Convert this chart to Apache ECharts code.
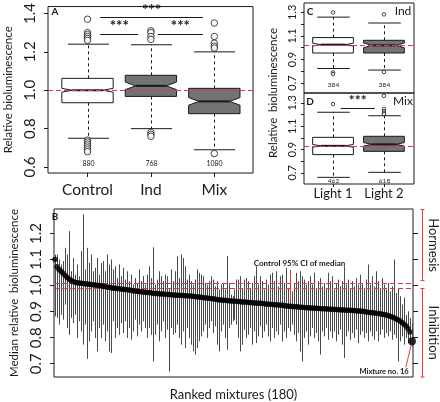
<!DOCTYPE html>
<html><head><meta charset="utf-8">
<script src="https://cdn.jsdelivr.net/npm/echarts@6/dist/echarts.min.js"></script>
<style>html,body{margin:0;padding:0;background:#fff}#c{width:440px;height:402px}</style>
</head><body><div id="c"></div>
<script>
// ---------- Panel A ----------
const groupsA = ['Control', 'Ind', 'Mix'];
const lowA = [0.75, 0.80, 0.69];
const q1A = [0.935, 0.968, 0.878];
const medA = [1.0, 1.023, 0.942];
const q3A = [1.062, 1.078, 1.010];
const highA = [1.24, 1.237, 1.20];
const notchA = [0.01, 0.02, 0.02];
const countA = [880, 768, 1080];
const outliersA = [
  [1.37, 1.30, 1.29, 1.28, 1.27, 1.26, 0.74, 0.73, 0.72, 0.71, 0.70, 0.69, 0.68],
  [1.31, 1.30, 1.28, 1.265, 0.78, 0.77, 0.76],
  [1.35, 1.28, 1.245, 1.23, 1.22, 0.67]
];
const refA = 1.0;
const sigFromA = [1.2, 1.2, 2.11];
const sigToA = [2.82, 1.8, 2.82];
const sigLevelA = [1.38, 1.293, 1.293];
const ticksA = [0.6, 0.8, 1.0, 1.2, 1.4];

// ---------- Panels C and D ----------
const groupsCD = ['Light 1', 'Light 2'];
const lowC = [0.823, 0.81], q1C = [0.955, 0.955], medC = [1.026, 1.02], q3C = [1.086, 1.063], highC = [1.26, 1.21];
const notchC = [0.012, 0.02], countC = [384, 384];
const outliersC = [[1.30, 0.79, 0.775], [1.283, 0.794]];
const refC = 1.02;
const lowD = [0.662, 0.705], q1D = [0.857, 0.885], medD = [0.932, 0.945], q3D = [1.005, 1.014], highD = [1.22, 1.19];
const notchD = [0.012, 0.015], countD = [462, 618];
const outliersD = [[1.29], [1.36, 1.25, 1.23, 1.215, 1.205]];
const refD = 0.928;
const sigFromD = [1.15], sigToD = [1.82], sigLevelD = [1.257];
const ticksCD = [0.7, 0.8, 0.9, 1.0, 1.1, 1.2, 1.3];
const labelsCD = [0.7, 0.9, 1.1, 1.3];

// ---------- Panel B (180 ranked mixtures) ----------
const medianB = [
1.100,1.072,1.062,1.055,1.047,1.040,1.032,1.025,1.020,1.016,
1.013,1.011,1.010,1.009,1.008,1.007,1.006,1.005,1.004,1.003,
1.002,1.001,1.000,0.999,0.997,0.996,0.995,0.994,0.992,0.991,
0.990,0.989,0.988,0.987,0.986,0.985,0.984,0.983,0.982,0.980,
0.979,0.978,0.977,0.976,0.975,0.974,0.973,0.973,0.972,0.971,
0.970,0.970,0.969,0.968,0.968,0.967,0.966,0.966,0.965,0.964,
0.964,0.963,0.963,0.962,0.962,0.961,0.961,0.960,0.960,0.959,
0.958,0.957,0.956,0.955,0.954,0.953,0.952,0.951,0.950,0.949,
0.948,0.947,0.946,0.945,0.944,0.944,0.943,0.942,0.941,0.941,
0.940,0.940,0.939,0.938,0.937,0.937,0.936,0.935,0.935,0.934,
0.933,0.933,0.932,0.932,0.931,0.930,0.929,0.928,0.928,0.927,
0.926,0.926,0.925,0.924,0.924,0.923,0.922,0.921,0.921,0.920,
0.919,0.919,0.918,0.917,0.917,0.916,0.915,0.915,0.914,0.914,
0.913,0.913,0.912,0.912,0.911,0.911,0.910,0.910,0.909,0.909,
0.908,0.908,0.907,0.907,0.906,0.906,0.905,0.905,0.905,0.904,
0.904,0.903,0.902,0.902,0.901,0.900,0.899,0.898,0.897,0.896,
0.895,0.894,0.893,0.892,0.890,0.889,0.887,0.885,0.882,0.879,
0.876,0.872,0.869,0.864,0.858,0.852,0.845,0.835,0.822,0.786];
const upperB = [
1.119,1.119,1.100,1.081,1.094,1.145,1.119,1.209,1.055,1.106,
1.042,1.081,1.036,1.132,1.273,1.062,1.145,1.087,1.119,1.055,
1.068,1.106,1.042,1.087,1.094,1.055,1.119,1.081,1.100,1.062,
1.074,1.029,1.081,1.036,1.068,1.023,1.055,1.017,1.042,1.004,
1.029,1.010,1.062,1.017,1.036,1.004,1.042,1.074,1.029,1.147,
1.004,1.023,1.055,1.036,1.017,1.042,1.036,0.991,1.062,1.017,
1.055,1.113,1.029,1.119,1.106,1.074,1.023,1.042,1.017,1.004,
1.023,1.062,1.049,1.042,1.036,1.010,1.004,1.017,1.036,1.023,
0.997,1.017,0.985,1.004,1.010,0.985,1.113,1.010,0.965,0.959,
0.985,1.023,1.023,1.036,0.991,1.023,1.029,1.017,0.991,1.010,
1.036,1.074,1.004,1.036,1.017,0.985,1.023,1.004,1.042,1.049,
1.017,1.055,0.997,1.036,1.042,1.010,1.068,0.991,1.004,0.978,
1.010,1.049,1.017,1.055,1.036,1.023,1.004,1.017,1.036,1.004,
1.049,0.991,1.017,1.029,0.997,1.010,0.991,1.049,1.017,1.036,
0.985,1.010,1.023,0.997,1.017,1.074,1.004,1.023,0.991,1.017,
0.997,1.029,1.004,1.042,1.010,0.991,1.023,1.081,1.004,1.036,
0.997,1.055,1.017,0.991,1.029,1.004,0.985,1.010,0.978,0.997,
1.100,0.972,0.991,0.959,0.927,0.953,0.888,0.901,0.876,0.856];
const lowerB = [
0.882,0.876,0.850,0.888,0.869,0.927,0.837,0.811,0.876,0.856,
0.888,0.799,0.863,0.824,0.773,0.850,0.719,0.786,0.824,0.863,
0.799,0.747,0.837,0.799,0.850,0.786,0.824,0.747,0.741,0.863,
0.799,0.837,0.811,0.856,0.818,0.863,0.799,0.837,0.792,0.824,
0.869,0.805,0.850,0.824,0.863,0.837,0.799,0.837,0.811,0.709,
0.811,0.850,0.786,0.824,0.863,0.799,0.831,0.670,0.837,0.811,
0.818,0.850,0.799,0.773,0.824,0.760,0.837,0.799,0.773,0.747,
0.735,0.760,0.786,0.805,0.824,0.850,0.799,0.837,0.863,0.818,
0.844,0.773,0.747,0.824,0.850,0.799,0.754,0.837,0.850,0.863,
0.869,0.850,0.799,0.747,0.773,0.831,0.799,0.811,0.837,0.773,
0.824,0.779,0.805,0.844,0.799,0.824,0.850,0.805,0.786,0.837,
0.799,0.824,0.811,0.850,0.786,0.824,0.799,0.837,0.824,0.850,
0.811,0.786,0.818,0.747,0.709,0.799,0.824,0.773,0.805,0.837,
0.799,0.818,0.786,0.735,0.824,0.805,0.837,0.792,0.824,0.799,
0.824,0.786,0.811,0.831,0.773,0.722,0.805,0.824,0.792,0.818,
0.799,0.831,0.779,0.811,0.824,0.799,0.818,0.786,0.824,0.805,
0.792,0.824,0.786,0.811,0.831,0.799,0.818,0.805,0.824,0.792,
0.811,0.799,0.709,0.786,0.805,0.773,0.799,0.779,0.773,0.767];
const ciB = [0.994, 1.011];
const ticksB = [0.7, 0.8, 0.9, 1.0, 1.1, 1.2];
const ciArrowB = [[119.2, 1.061], [119.2, 0.947]];
const ciLabelB = [123.6, 1.084];
const mixArrowB = [[176.9, 0.687], [179.6, 0.772]];
const mixLabelB = [166, 0.668];
const hormesisB = [1.292, 1.019];
const inhibitionB = [0.989, 0.649];

// ---------- styles ----------
const FONT = 'Lato';
const INK = '#1a1a1a';
const GRAY = '#737373';
const LINEGRAY = '#4a4a4a';
const RED = '#e0393e';

function boxRenderer(halfW, capFrac, indentFrac, countLevel, countSize, medW) {
  return function (params, api) {
    const i = params.dataIndex;
    const x = api.value(0);
    const Y = v => api.coord([x, v])[1];
    const xl = api.coord([x - halfW, 1])[0];
    const xr = api.coord([x + halfW, 1])[0];
    const cx = Math.round(api.coord([x, 1])[0]) + 0.5;
    const w = xr - xl;
    const cap = w * capFrac;
    const lo = Y(api.value(1)), q1 = Y(api.value(2)), md = Y(api.value(3)), q3 = Y(api.value(4)), hi = Y(api.value(5));
    const nt = Y(api.value(3) + api.value(6)), nb = Y(api.value(3) - api.value(6));
    const ind = w * indentFrac;
    const fill = i === 0 ? '#ffffff' : GRAY;
    const dash = { stroke: INK, lineWidth: 1, lineDash: [3, 3] };
    return {
      type: 'group',
      children: [
        { type: 'line', shape: { x1: cx, y1: q3, x2: cx, y2: hi }, style: dash },
        { type: 'line', shape: { x1: cx, y1: q1, x2: cx, y2: lo }, style: dash },
        { type: 'line', shape: { x1: cx - cap, y1: hi, x2: cx + cap, y2: hi }, style: { stroke: INK, lineWidth: 1 } },
        { type: 'line', shape: { x1: cx - cap, y1: lo, x2: cx + cap, y2: lo }, style: { stroke: INK, lineWidth: 1 } },
        { type: 'polygon', shape: { points: [[xl, q3], [xr, q3], [xr, nt], [xr - ind, md], [xr, nb], [xr, q1], [xl, q1], [xl, nb], [xl + ind, md], [xl, nt]] },
          style: { fill: fill, stroke: INK, lineWidth: 1 } },
        { type: 'line', shape: { x1: xl + ind, y1: md, x2: xr - ind, y2: md }, style: { stroke: INK, lineWidth: medW } },
        { type: 'text', style: { text: String(api.value(7)), x: cx, y: Y(countLevel), align: 'center', verticalAlign: 'middle', fontSize: countSize, fontFamily: FONT, fill: INK } }
      ]
    };
  };
}

function boxData(low, q1, med, q3, high, notch, count) {
  return low.map((v, i) => [i + 1, low[i], q1[i], med[i], q3[i], high[i], notch[i], count[i]]);
}
function outlierData(list) {
  const out = [];
  list.forEach((arr, i) => arr.forEach(v => out.push([i + 1, v])));
  return out;
}
function sigLines(from, to, lvl, fs) {
  return from.map((f, i) => [
    { coord: [f, lvl[i]], lineStyle: { color: INK, type: 'solid', width: 1 },
      label: { show: true, formatter: '***', position: 'middle', distance: 0, fontSize: fs, fontWeight: 'bold', color: INK, fontFamily: FONT } },
    { coord: [to[i], lvl[i]] }
  ]);
}
function refLine(v) {
  return { yAxis: v, lineStyle: { color: RED, type: [5, 3], width: 1.2 }, label: { show: false } };
}

const baseLabel = { fontFamily: FONT, color: INK };

const option = {
  animation: false,
  textStyle: { fontFamily: FONT },
  grid: [
    { left: 48, top: 3, width: 205, height: 170, show: true, borderColor: INK, borderWidth: 1, backgroundColor: 'transparent' },
    { left: 304, top: 3, width: 110, height: 90, show: true, borderColor: INK, borderWidth: 1, backgroundColor: 'transparent' },
    { left: 304, top: 93, width: 110, height: 91, show: true, borderColor: INK, borderWidth: 1, backgroundColor: 'transparent' },
    { left: 48, top: 209, width: 365, height: 169, show: true, borderColor: INK, borderWidth: 1, backgroundColor: 'transparent' }
  ],
  xAxis: [
    { type: 'value', gridIndex: 0, min: 0.377, max: 3.61, splitLine: { show: false }, axisLine: { show: false },
      axisTick: { show: true, customValues: [1, 2, 3], length: 4, lineStyle: { color: INK } },
      axisLabel: { show: true, customValues: [1, 2, 3], formatter: v => groupsA[Math.round(v) - 1] || '', fontSize: 15.5, margin: 9, ...baseLabel } },
    { type: 'value', gridIndex: 1, min: 0.43, max: 2.59, splitLine: { show: false }, axisLine: { show: false },
      axisTick: { show: false }, axisLabel: { show: false } },
    { type: 'value', gridIndex: 2, min: 0.43, max: 2.59, splitLine: { show: false }, axisLine: { show: false },
      axisTick: { show: true, customValues: [1, 2], length: 3, lineStyle: { color: INK } },
      axisLabel: { show: true, customValues: [1, 2], formatter: v => groupsCD[Math.round(v) - 1] || '', fontSize: 13, margin: 3, ...baseLabel } },
    { type: 'value', gridIndex: 3, min: 0.5, max: 180.5, splitLine: { show: false }, axisLine: { show: false },
      axisTick: { show: false }, axisLabel: { show: false },
      name: 'Ranked mixtures (180)', nameLocation: 'middle', nameGap: 11, nameTextStyle: { fontSize: 13, ...baseLabel } }
  ],
  yAxis: [
    { type: 'value', gridIndex: 0, min: 0.569, max: 1.436, splitLine: { show: false }, axisLine: { show: false },
      axisTick: { show: true, customValues: ticksA, length: 4, lineStyle: { color: INK } },
      axisLabel: { show: true, customValues: ticksA, rotate: 90, formatter: v => v.toFixed(1), fontSize: 15, margin: 10, ...baseLabel },
      name: 'Relative bioluminescence', nameLocation: 'middle', nameRotate: 90, nameGap: 34, nameTextStyle: { fontSize: 11.5, ...baseLabel } },
    { type: 'value', gridIndex: 1, min: 0.615, max: 1.38, splitLine: { show: false }, axisLine: { show: false },
      axisTick: { show: true, customValues: ticksCD, length: 3, lineStyle: { color: INK } },
      axisLabel: { show: true, customValues: labelsCD, rotate: 90, formatter: v => v.toFixed(1), fontSize: 11, margin: 6, ...baseLabel } },
    { type: 'value', gridIndex: 2, min: 0.605, max: 1.385, splitLine: { show: false }, axisLine: { show: false },
      axisTick: { show: true, customValues: ticksCD, length: 3, lineStyle: { color: INK } },
      axisLabel: { show: true, customValues: labelsCD, rotate: 90, formatter: v => v.toFixed(1), fontSize: 11, margin: 6, ...baseLabel } },
    { type: 'value', gridIndex: 3, min: 0.649, max: 1.294, splitLine: { show: false }, axisLine: { show: false },
      axisTick: { show: true, customValues: ticksB, length: 4, lineStyle: { color: INK } },
      axisLabel: { show: true, customValues: ticksB, rotate: 90, formatter: v => v.toFixed(1), fontSize: 15, margin: 10, ...baseLabel },
      name: 'Median relative  bioluminescence', nameLocation: 'middle', nameRotate: 90, nameGap: 34, nameTextStyle: { fontSize: 11.5, ...baseLabel } },
    { type: 'value', gridIndex: 3, position: 'right', min: 0.649, max: 1.294, splitLine: { show: false }, axisLine: { show: false },
      axisTick: { show: true, customValues: ticksB, length: 5, lineStyle: { color: INK } },
      axisLabel: { show: false } }
  ],
  series: [
    // Panel A
    { type: 'custom', xAxisIndex: 0, yAxisIndex: 0, renderItem: boxRenderer(0.405, 0.4, 0.2, 0.615, 7, 2),
      data: boxData(lowA, q1A, medA, q3A, highA, notchA, countA), encode: { x: 0, y: [1, 5] }, z: 3,
      markLine: { silent: true, symbol: 'none', animation: false, data: [refLine(refA)], z: 5 } },
    { type: 'scatter', xAxisIndex: 0, yAxisIndex: 0, data: outlierData(outliersA), symbol: 'circle', symbolSize: 6.5,
      itemStyle: { color: '#fff', borderColor: INK, borderWidth: 1 }, z: 4,
      markLine: { silent: true, symbol: 'none', animation: false, data: sigLines(sigFromA, sigToA, sigLevelA, 15) } },
    // Panel C
    { type: 'custom', xAxisIndex: 1, yAxisIndex: 1, renderItem: boxRenderer(0.4, 0.4, 0.2, 0.68, 6.5, 2),
      data: boxData(lowC, q1C, medC, q3C, highC, notchC, countC), encode: { x: 0, y: [1, 5] }, z: 3,
      markLine: { silent: true, symbol: 'none', animation: false, data: [refLine(refC)], z: 5 } },
    { type: 'scatter', xAxisIndex: 1, yAxisIndex: 1, data: outlierData(outliersC), symbol: 'circle', symbolSize: 3.5,
      itemStyle: { color: '#fff', borderColor: INK, borderWidth: 1 }, z: 4 },
    // Panel D
    { type: 'custom', xAxisIndex: 2, yAxisIndex: 2, renderItem: boxRenderer(0.4, 0.4, 0.2, 0.632, 6.5, 2),
      data: boxData(lowD, q1D, medD, q3D, highD, notchD, countD), encode: { x: 0, y: [1, 5] }, z: 3,
      markLine: { silent: true, symbol: 'none', animation: false, data: [refLine(refD)], z: 5 } },
    { type: 'scatter', xAxisIndex: 2, yAxisIndex: 2, data: outlierData(outliersD), symbol: 'circle', symbolSize: 3.5,
      itemStyle: { color: '#fff', borderColor: INK, borderWidth: 1 }, z: 4,
      markLine: { silent: true, symbol: 'none', animation: false, data: sigLines(sigFromD, sigToD, sigLevelD, 14) } },
    // Panel B ranges
    { type: 'custom', xAxisIndex: 3, yAxisIndex: 3, z: 2,
      data: medianB.map((m, i) => [i + 1, lowerB[i], upperB[i]]), encode: { x: 0, y: [1, 2] },
      renderItem: function (params, api) {
        const a = api.coord([api.value(0), api.value(1)]);
        const b = api.coord([api.value(0), api.value(2)]);
        const x = Math.round(a[0]) + 0.5;
        return { type: 'line', shape: { x1: x, y1: a[1], x2: x, y2: b[1] }, style: { stroke: LINEGRAY, lineWidth: 1 } };
      } },
    // Panel B medians
    { type: 'scatter', xAxisIndex: 3, yAxisIndex: 3, z: 4,
      data: medianB.map((m, i) => [i + 1, m]),
      symbolSize: (v, p) => (p.dataIndex === medianB.length - 1 ? 8 : 5.5),
      itemStyle: { color: '#000' },
      markLine: { silent: true, symbol: 'none', animation: false, z: 3,
        data: [refLine(ciB[0]), refLine(ciB[1]),
          [{ coord: ciArrowB[0], lineStyle: { color: RED, type: 'solid', width: 1 }, label: { show: false } }, { coord: ciArrowB[1] }],
          [{ coord: mixArrowB[0], lineStyle: { color: RED, type: 'solid', width: 1 }, label: { show: false } }, { coord: mixArrowB[1] }]
        ] } }
  ]
};

const chart = echarts.init(document.getElementById('c'));
chart.setOption(option);

const pB = v => chart.convertToPixel({ gridIndex: 3 }, v);
const ciL = pB(ciLabelB), mixL = pB(mixLabelB);
const hTop = pB([180, hormesisB[0]])[1], hBot = pB([180, hormesisB[1]])[1];
const iTop = pB([180, inhibitionB[0]])[1], iBot = pB([180, inhibitionB[1]])[1];
const bx = 422.5;
function bracket(y1, y2) {
  return [
    { type: 'line', shape: { x1: bx, y1: y1, x2: bx, y2: y2 }, style: { stroke: RED, lineWidth: 1 } },
    { type: 'line', shape: { x1: bx - 2, y1: y1, x2: bx + 2, y2: y1 }, style: { stroke: RED, lineWidth: 1 } },
    { type: 'line', shape: { x1: bx - 2, y1: y2, x2: bx + 2, y2: y2 }, style: { stroke: RED, lineWidth: 1 } }
  ];
}
const txt = (t, x, y, o) => ({ type: 'text', x: x, y: y, rotation: (o && o.rot) || 0,
  style: { text: t, align: 'center', verticalAlign: 'middle', fontSize: (o && o.fs) || 10, fontWeight: (o && o.fw) || 'normal', fontFamily: FONT, fill: INK } });

chart.setOption({
  graphic: [
    txt('A', 55, 12, { fs: 10, fw: 'bold' }),
    txt('C', 310, 12, { fs: 10, fw: 'bold' }),
    txt('Ind', 403, 11, { fs: 12 }),
    txt('D', 310, 102, { fs: 10, fw: 'bold' }),
    txt('Mix', 403, 101, { fs: 12 }),
    txt('B', 55, 217, { fs: 10, fw: 'bold' }),
    txt('Relative  bioluminescence', 273, 93, { fs: 11.5, rot: Math.PI / 2 }),
    txt('Control 95% CI of median', ciL[0], ciL[1], { fs: 8, fw: 'bold' }),
    txt('Mixture no. 16', mixL[0], mixL[1], { fs: 7.5, fw: 'bold' }),
    txt('Hormesis', 433, (hTop + hBot) / 2, { fs: 13, rot: -Math.PI / 2 }),
    txt('Inhibition', 433, (iTop + iBot) / 2, { fs: 13, rot: -Math.PI / 2 })
  ].concat(bracket(hTop, hBot), bracket(iTop, iBot))
});
</script></body></html>
